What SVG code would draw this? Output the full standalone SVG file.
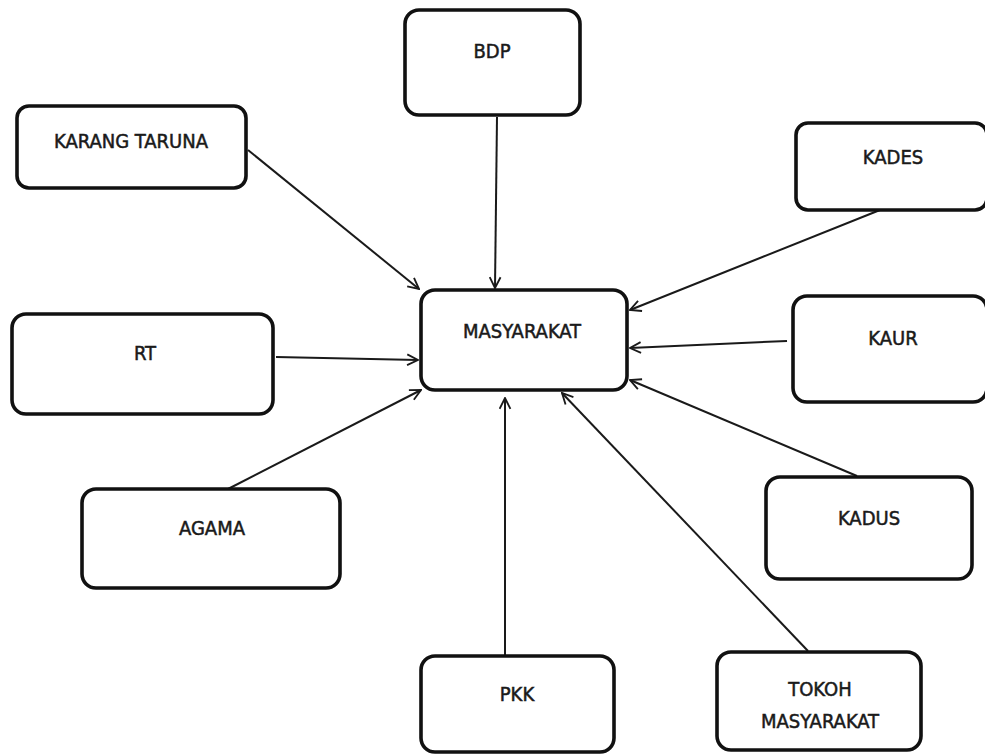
<svg xmlns="http://www.w3.org/2000/svg" width="985" height="756" viewBox="0 0 985 756">
<style>
.box{fill:#fff;stroke:#111;stroke-width:3.6}
.lbl{font-family:"DejaVu Sans Condensed","DejaVu Sans","Liberation Sans",sans-serif;font-stretch:condensed;font-size:20px;fill:#1a1a1a;stroke:#1a1a1a;stroke-width:0.5;text-anchor:middle}
.edge{stroke:#1a1a1a;stroke-width:2;fill:none;marker-end:url(#arr)}
</style>
<defs>
<marker id="arr" viewBox="0 0 12 12" refX="11" refY="6" markerWidth="13" markerHeight="13" markerUnits="userSpaceOnUse" orient="auto">
<path d="M1,1 L11,6 L1,11" fill="none" stroke="#1a1a1a" stroke-width="1.7"/>
</marker>
</defs>
<rect width="985" height="756" fill="#fff"/>
<g id="connectors">
<line class="edge" x1="497" y1="117" x2="495" y2="288"/>
<line class="edge" x1="248" y1="150" x2="419" y2="289"/>
<line class="edge" x1="880" y1="210" x2="630" y2="310"/>
<line class="edge" x1="276" y1="357" x2="418" y2="360"/>
<line class="edge" x1="787" y1="341" x2="630" y2="348"/>
<line class="edge" x1="228" y1="489" x2="421" y2="390"/>
<line class="edge" x1="857" y1="476" x2="630" y2="380"/>
<line class="edge" x1="505" y1="655" x2="505" y2="398"/>
<line class="edge" x1="808" y1="651" x2="562" y2="393"/>
</g>
<g id="masyarakat"><rect class="box" x="421" y="290" width="206" height="100" rx="14"/><text class="lbl" x="522" y="338">MASYARAKAT</text></g>
<g id="bdp"><rect class="box" x="405" y="10" width="175" height="105" rx="14"/><text class="lbl" x="492" y="58">BDP</text></g>
<g id="karang-taruna"><rect class="box" x="17" y="106" width="229" height="82" rx="12"/><text class="lbl" x="131" y="148">KARANG TARUNA</text></g>
<g id="kades"><rect class="box" x="796" y="123" width="191" height="87" rx="12"/><text class="lbl" x="893" y="164">KADES</text></g>
<g id="rt"><rect class="box" x="12" y="314" width="261" height="100" rx="14"/><text class="lbl" x="145" y="360">RT</text></g>
<g id="kaur"><rect class="box" x="793" y="296" width="194" height="106" rx="14"/><text class="lbl" x="893" y="345">KAUR</text></g>
<g id="agama"><rect class="box" x="82" y="489" width="258" height="99" rx="14"/><text class="lbl" x="212" y="535">AGAMA</text></g>
<g id="kadus"><rect class="box" x="766" y="477" width="206" height="102" rx="14"/><text class="lbl" x="869" y="525">KADUS</text></g>
<g id="pkk"><rect class="box" x="421" y="656" width="193" height="96" rx="14"/><text class="lbl" x="517" y="701">PKK</text></g>
<g id="tokoh-masyarakat"><rect class="box" x="717" y="652" width="204" height="98" rx="14"/><text class="lbl" x="820" y="696">TOKOH</text><text class="lbl" x="820" y="728">MASYARAKAT</text></g>
</svg>
